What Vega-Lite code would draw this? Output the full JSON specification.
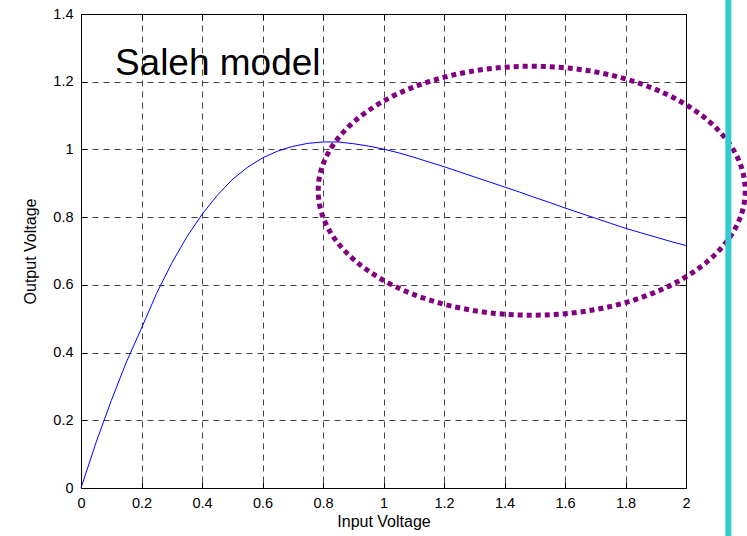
{
  "$schema": "https://vega.github.io/schema/vega-lite/v6.json",
  "autosize": "none",
  "width": 605,
  "height": 474,
  "padding": {"left": 81, "top": 14, "right": 61, "bottom": 48},
  "background": "white",
  "config": {
    "view": {"stroke": "black", "strokeWidth": 1},
    "font": "Liberation Sans",
    "axis": {
      "labelFont": "Liberation Sans",
      "titleFont": "Liberation Sans",
      "labelFontSize": 14.5,
      "titleFontSize": 16,
      "titleFontWeight": "normal",
      "labelColor": "black",
      "titleColor": "black",
      "domainColor": "black",
      "tickColor": "black",
      "tickSize": -6,
      "labelFlush": false,
      "labelOverlap": false,
      "gridColor": "#444444",
      "gridDash": [6, 5],
      "gridOpacity": 1,
      "gridWidth": 1
    }
  },
  "datasets": {
    "curve": [
      {"input": 0, "output": 0},
      {"input": 0.05, "output": 0.135},
      {"input": 0.1, "output": 0.258},
      {"input": 0.15, "output": 0.372},
      {"input": 0.2, "output": 0.472},
      {"input": 0.25, "output": 0.575},
      {"input": 0.3, "output": 0.664},
      {"input": 0.35, "output": 0.742},
      {"input": 0.4, "output": 0.808},
      {"input": 0.45, "output": 0.864},
      {"input": 0.5, "output": 0.911},
      {"input": 0.55, "output": 0.947},
      {"input": 0.6, "output": 0.975},
      {"input": 0.65, "output": 0.995},
      {"input": 0.7, "output": 1.009},
      {"input": 0.75, "output": 1.018},
      {"input": 0.8, "output": 1.022},
      {"input": 0.85, "output": 1.022},
      {"input": 0.9, "output": 1.017},
      {"input": 0.95, "output": 1.010},
      {"input": 1.0, "output": 1.001},
      {"input": 1.05, "output": 0.990},
      {"input": 1.1, "output": 0.977},
      {"input": 1.15, "output": 0.963},
      {"input": 1.2, "output": 0.949},
      {"input": 1.25, "output": 0.934},
      {"input": 1.3, "output": 0.919},
      {"input": 1.35, "output": 0.904},
      {"input": 1.4, "output": 0.889},
      {"input": 1.45, "output": 0.874},
      {"input": 1.5, "output": 0.858},
      {"input": 1.55, "output": 0.843},
      {"input": 1.6, "output": 0.827},
      {"input": 1.65, "output": 0.812},
      {"input": 1.7, "output": 0.797},
      {"input": 1.75, "output": 0.782},
      {"input": 1.8, "output": 0.767},
      {"input": 1.85, "output": 0.754},
      {"input": 1.9, "output": 0.741},
      {"input": 1.95, "output": 0.728},
      {"input": 2.0, "output": 0.716}
    ]
  },
  "layer": [
    {
      "data": {"name": "curve"},
      "mark": {"type": "line", "color": "#0000FF", "strokeWidth": 1},
      "encoding": {
        "x": {
          "field": "input", "type": "quantitative",
          "scale": {"domain": [0, 2], "nice": false, "zero": false},
          "axis": {
            "orient": "bottom",
            "title": "Input Voltage",
            "values": [0, 0.2, 0.4, 0.6, 0.8, 1, 1.2, 1.4, 1.6, 1.8, 2],
            "format": "~g",
            "grid": true,
            "labelPadding": 14,
            "titlePadding": 4
          }
        },
        "y": {
          "field": "output", "type": "quantitative",
          "scale": {"domain": [0, 1.4], "nice": false, "zero": false},
          "axis": {
            "orient": "left",
            "title": "Output Voltage",
            "values": [0, 0.2, 0.4, 0.6, 0.8, 1, 1.2, 1.4],
            "format": "~g",
            "grid": true,
            "labelPadding": 14,
            "titlePadding": 14
          }
        }
      }
    },
    {
      "data": {"values": [{"input": 0, "output": 0}]},
      "mark": {"type": "point", "opacity": 0},
      "encoding": {
        "x": {
          "field": "input", "type": "quantitative",
          "axis": {"orient": "top", "values": [0, 0.2, 0.4, 0.6, 0.8, 1, 1.2, 1.4, 1.6, 1.8, 2], "labels": false, "title": null, "grid": false}
        },
        "y": {
          "field": "output", "type": "quantitative",
          "axis": {"orient": "right", "values": [0, 0.2, 0.4, 0.6, 0.8, 1, 1.2, 1.4], "labels": false, "title": null, "grid": false}
        }
      }
    },
    {
      "data": {"values": [{"label": "Saleh model", "input": 0.112, "output": 1.22}]},
      "mark": {"type": "text", "align": "left", "baseline": "alphabetic", "fontSize": 37, "font": "Liberation Sans", "color": "black"},
      "encoding": {
        "x": {"field": "input", "type": "quantitative", "axis": null},
        "y": {"field": "output", "type": "quantitative", "axis": null},
        "text": {"field": "label"}
      }
    },
    {
      "data": {"values": [{"input": 1.49, "output": 0.878}]},
      "mark": {
        "type": "point",
        "shape": "M-1,0A1,0.583,0,1,1,1,0A1,0.583,0,1,1,-1,0Z",
        "size": 182329,
        "filled": false,
        "fill": null,
        "stroke": "#800080",
        "strokeWidth": 5,
        "strokeDash": [5, 4],
        "strokeCap": "butt",
        "opacity": 1,
        "clip": false
      },
      "encoding": {
        "x": {"field": "input", "type": "quantitative", "axis": null},
        "y": {"field": "output", "type": "quantitative", "axis": null}
      }
    },
    {
      "data": {"values": [{"input": 2.14, "top": 1.45, "bottom": -0.15}]},
      "mark": {"type": "rule", "color": "#33CCCC", "strokeWidth": 6, "clip": false},
      "encoding": {
        "x": {"field": "input", "type": "quantitative", "axis": null},
        "y": {"field": "top", "type": "quantitative", "axis": null},
        "y2": {"field": "bottom"}
      }
    }
  ],
  "resolve": {"scale": {"x": "shared", "y": "shared"}, "axis": {"x": "independent", "y": "independent"}}
}
